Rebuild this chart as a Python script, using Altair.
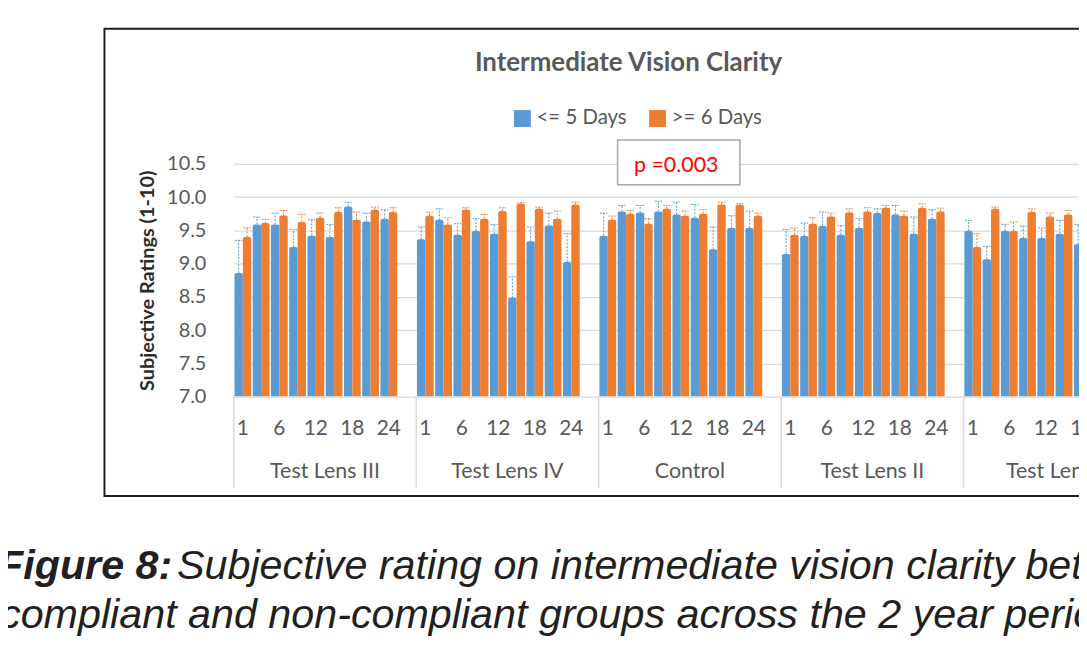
import altair as alt
import pandas as pd

# ---------------- data ----------------
groups = ["Test Lens III", "Test Lens IV", "Control", "Test Lens II", "Test Lens I"]
months = [1, 3, 6, 9, 12, 15, 18, 21, 24]
label_months = [1, 6, 12, 18, 24]
series_names = ["<= 5 Days", ">= 6 Days"]
y_ticks = [7.0, 7.5, 8.0, 8.5, 9.0, 9.5, 10.0, 10.5]

# Test Lens III
l3_short = [8.86, 9.59, 9.59, 9.25, 9.42, 9.40, 9.86, 9.635, 9.675]
l3_short_hi = [9.35, 9.70, 9.76, 9.515, 9.66, 9.59, 9.925, 9.76, 9.81]
l3_long = [9.40, 9.61, 9.725, 9.625, 9.69, 9.775, 9.66, 9.81, 9.775]
l3_long_hi = [9.54, 9.665, 9.80, 9.74, 9.76, 9.84, 9.775, 9.85, 9.84]
# Test Lens IV
l4_short = [9.365, 9.66, 9.435, 9.49, 9.45, 8.485, 9.335, 9.575, 9.025]
l4_short_hi = [9.55, 9.825, 9.60, 9.675, 9.59, 8.80, 9.55, 9.76, 9.45]
l4_long = [9.72, 9.59, 9.81, 9.675, 9.79, 9.90, 9.825, 9.675, 9.89]
l4_long_hi = [9.775, 9.69, 9.84, 9.74, 9.84, 9.915, 9.85, 9.79, 9.925]
# Control
ct_short = [9.42, 9.785, 9.77, 9.785, 9.74, 9.69, 9.215, 9.535, 9.535]
ct_short_hi = [9.76, 9.875, 9.875, 9.94, 9.925, 9.89, 9.55, 9.72, 9.79]
ct_long = [9.66, 9.75, 9.60, 9.825, 9.72, 9.75, 9.89, 9.885, 9.72]
ct_long_hi = [9.715, 9.80, 9.675, 9.875, 9.79, 9.81, 9.925, 9.90, 9.76]
# Test Lens II
l2_short = [9.145, 9.415, 9.565, 9.435, 9.535, 9.76, 9.74, 9.45, 9.675]
l2_short_hi = [9.515, 9.61, 9.775, 9.57, 9.675, 9.825, 9.875, 9.70, 9.81]
l2_long = [9.435, 9.60, 9.71, 9.77, 9.785, 9.84, 9.72, 9.84, 9.785]
l2_long_hi = [9.535, 9.69, 9.76, 9.825, 9.84, 9.875, 9.79, 9.90, 9.835]
# Test Lens I (only the visible part of the cropped figure)
l1_short = [9.49, 9.065, 9.49, 9.385, 9.385, 9.45, 9.29]
l1_short_hi = [9.65, 9.26, 9.59, 9.565, 9.535, 9.65, 9.59]
l1_long = [9.25, 9.825, 9.49, 9.775, 9.71, 9.74, 9.90]
l1_long_hi = [9.45, 9.85, 9.625, 9.825, 9.76, 9.80, 9.93]

short_all = [l3_short, l4_short, ct_short, l2_short, l1_short]
short_hi_all = [l3_short_hi, l4_short_hi, ct_short_hi, l2_short_hi, l1_short_hi]
long_all = [l3_long, l4_long, ct_long, l2_long, l1_long]
long_hi_all = [l3_long_hi, l4_long_hi, ct_long_hi, l2_long_hi, l1_long_hi]

SLOTS_PER_GROUP = 10
rows = []
for gi, (g, s, sh, l, lh) in enumerate(zip(groups, short_all, short_hi_all, long_all, long_hi_all)):
    for mi, (a, ah, b, bh) in enumerate(zip(s, sh, l, lh)):
        slot = gi * SLOTS_PER_GROUP + mi
        for si, (v, hi) in enumerate([(a, ah), (b, bh)]):
            left = slot + 0.04 + si * 0.46
            right = left + 0.46
            c = (left + right) / 2
            rows.append(dict(group=g, month=months[mi], series=series_names[si],
                             mean=v, hi=hi, x0=left, x1=right, xc=c,
                             c0=c - 0.2, c1=c + 0.2))
df = pd.DataFrame(rows)

tick_rows = []
for gi, g in enumerate(groups):
    for m in label_months:
        tick_rows.append(dict(group=g, label=str(m), pos=gi * SLOTS_PER_GROUP + months.index(m) + 0.5))
ticks_df = pd.DataFrame(tick_rows)
group_df = pd.DataFrame({"group": groups,
                         "pos": [gi * SLOTS_PER_GROUP + SLOTS_PER_GROUP / 2 for gi in range(len(groups))]})
sep_df = pd.DataFrame({"b": [gi * SLOTS_PER_GROUP for gi in range(len(groups))]})

# ---------------- chart ----------------
W, H = 850, 234
SLOT_PX = 18.35
xs = alt.Scale(domain=[0, W / SLOT_PX], nice=False, zero=False)
ys = alt.Scale(domain=[7, 10.5], nice=False, zero=False)
cs = alt.Scale(domain=series_names, range=["#5b9bd5", "#ed7d31"])
GRAY = "#595959"
FONT = "Lato"
Y_TITLE = "Subjective Ratings (1-10)"

y_axis = alt.Axis(values=y_ticks, tickCount=8, format=".1f", labelOverlap=False,
                  ticks=False, domain=False, labelPadding=28,
                  labelFont=FONT, labelFontSize=20, labelColor=GRAY,
                  gridColor="#d9d9d9", gridWidth=1.3,
                  titleFont=FONT, titleFontSize=20, titleFontWeight="bold",
                  titleColor="#2b2b2b", titlePadding=9)

bars = alt.Chart(df).mark_rect(clip=True, cornerRadiusTopLeft=2, cornerRadiusTopRight=2).encode(
    x=alt.X("x0:Q", scale=xs, axis=None),
    x2="x1:Q",
    y=alt.Y("mean:Q", scale=ys, title=Y_TITLE, axis=y_axis),
    y2=alt.datum(7),
    color=alt.Color("series:N", scale=cs,
                    legend=alt.Legend(title=None, orient="none", legendX=280, legendY=-56,
                                      direction="horizontal", symbolType="square",
                                      symbolSize=289, symbolStrokeWidth=0, padding=0,
                                      labelFont=FONT, labelFontSize=20.5, labelColor=GRAY,
                                      labelOffset=4, columnPadding=20)),
)

err = alt.Chart(df).mark_rule(clip=True, strokeDash=[2, 1.5], strokeWidth=1).encode(
    x=alt.X("xc:Q", scale=xs, axis=None), y=alt.Y("mean:Q", scale=ys, title=Y_TITLE, axis=y_axis),
    y2="hi:Q",
    color=alt.Color("series:N", scale=cs, legend=None))
caps = alt.Chart(df).mark_rule(clip=True, strokeDash=[2, 1], strokeWidth=1).encode(
    x=alt.X("c0:Q", scale=xs, axis=None), x2="c1:Q",
    y=alt.Y("hi:Q", scale=ys, title=Y_TITLE, axis=y_axis),
    color=alt.Color("series:N", scale=cs, legend=None))

seps = alt.Chart(sep_df).mark_rule(color="#d9d9d9", strokeWidth=1.5).encode(
    x=alt.X("b:Q", scale=xs, axis=None), y=alt.value(H), y2=alt.value(H + 92))

tick_text = alt.Chart(ticks_df).mark_text(font=FONT, fontSize=21, color=GRAY, baseline="middle").encode(
    x=alt.X("pos:Q", scale=xs, axis=None), y=alt.value(267), text="label:N")
group_text = alt.Chart(group_df).mark_text(font=FONT, fontSize=21.5, color=GRAY, baseline="middle").encode(
    x=alt.X("pos:Q", scale=xs, axis=None), y=alt.value(310), text="group:N")


def note(text, x, y, **kw):
    return alt.Chart(pd.DataFrame({"t": [text]})).mark_text(**kw).encode(
        x=alt.value(x), y=alt.value(y), text="t:N")


one = pd.DataFrame({"k": [0]})
pbox = alt.Chart(one).mark_rect(fill="white", stroke="#a6a6a6", strokeWidth=1.5).encode(
    x=alt.value(386), x2=alt.value(509), y=alt.value(-24), y2=alt.value(21))
ptext = note("p =0.003", 445, 2, font=FONT, fontSize=21.5, color="#ff0000", baseline="middle")
title = note("Intermediate Vision Clarity", 397, -101, font=FONT, fontSize=26, fontWeight="bold",
             color=GRAY, baseline="middle")
frame = alt.Chart(one).mark_rect(fillOpacity=0, stroke="#1e1e1e", strokeWidth=2).encode(
    x=alt.value(-130), x2=alt.value(950), y=alt.value(-136), y2=alt.value(334))

CAP_FONT = "Liberation Sans"
cap1a = note("Figure 8:", -237, 417, font=CAP_FONT, fontSize=41.5, fontStyle="italic",
             fontWeight="bold", color="#231f20", align="left", baseline="alphabetic")
cap1b = note("Subjective rating on intermediate vision clarity between", -57, 417, font=CAP_FONT,
             fontSize=41.5, fontStyle="italic", color="#231f20", align="left", baseline="alphabetic")
cap2 = note("compliant and non-compliant groups across the 2 year period", -235, 467, font=CAP_FONT,
            fontSize=41.5, fontStyle="italic", color="#231f20", align="left", baseline="alphabetic")

chart = alt.layer(
    bars, err, caps, seps, tick_text, group_text, pbox, ptext, title, frame, cap1a, cap1b, cap2
).resolve_legend(color="independent").properties(
    width=W, height=H,
    autosize=alt.AutoSizeParams(type="none"),
    padding={"left": 227, "top": 155, "right": 0, "bottom": 244},
    background="white",
).configure_view(strokeWidth=0)

chart.save("out.html", embed_options={"renderer": "svg", "actions": False})
